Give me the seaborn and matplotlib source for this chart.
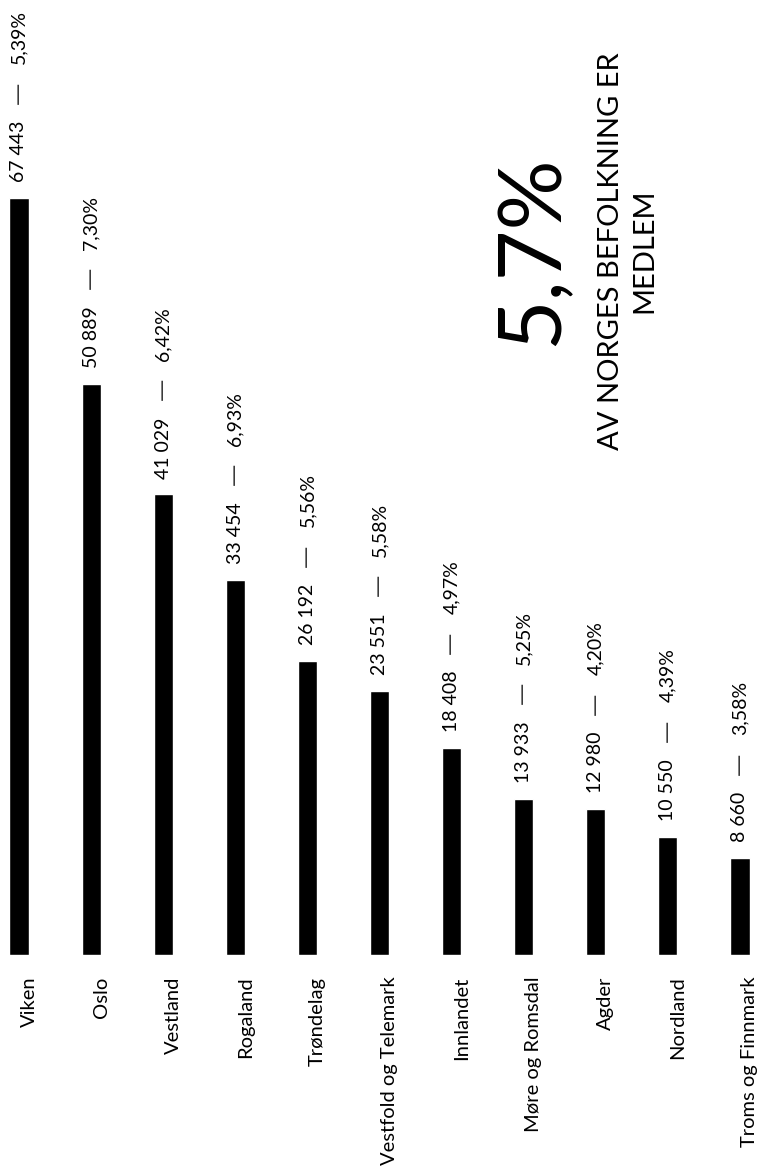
import matplotlib
matplotlib.use("Agg")
import matplotlib.pyplot as plt
from matplotlib.transforms import ScaledTranslation
import seaborn as sns
import pandas as pd

regions = ["Viken", "Oslo", "Vestland", "Rogaland", "Trøndelag",
           "Vestfold og Telemark", "Innlandet", "Møre og Romsdal",
           "Agder", "Nordland", "Troms og Finnmark"]
members = [67443, 50889, 41029, 33454, 26192, 23551, 18408, 13933,
           12980, 10550, 8660]
shares = ["5,39%", "7,30%", "6,42%", "6,93%", "5,56%", "5,58%", "4,97%",
          "5,25%", "4,20%", "4,39%", "3,58%"]
headline = "5,7%"
subline = "AV NORGES BEFOLKNING ER\nMEDLEM"

sns.set_theme(style="white")
plt.rcParams["font.family"] = ["Lato", "DejaVu Sans"]

W, H, DPI = 760, 1169, 100
fig = plt.figure(figsize=(W / DPI, H / DPI), dpi=DPI)
fig.patch.set_facecolor("white")

base_px = 955          # baseline position from top (px)
ax = fig.add_axes([0, (H - base_px) / H, 1, base_px / H])
ax.set_facecolor("white")

df = pd.DataFrame({"region": regions, "members": members})
sns.barplot(data=df, x="region", y="members", color="black",
            width=0.264, saturation=1, ax=ax)

step = 72.1
first = 19
ax.set_xlim(-first / step, (W - first) / step)
ax.set_ylim(0, members[0] * base_px / (base_px - 198))

for s in ax.spines.values():
    s.set_visible(False)
ax.set_yticks([])
ax.set_xlabel("")
ax.set_ylabel("")
ax.tick_params(axis="x", length=0, pad=15.5)
ax.set_xticks(range(len(regions)))
ax.set_xticklabels(regions, rotation=90, ha="center", va="top",
                   fontsize=14.5, color="black")
for lab in ax.get_xticklabels():
    lab.set_transform(lab.get_transform() +
                      ScaledTranslation(10 / DPI, 0, fig.dpi_scale_trans))

for i, (v, p) in enumerate(zip(members, shares)):
    num = f"{v:,}".replace(",", " ")
    t1 = ax.annotate(num, xy=(i, v), xytext=(0, 11.5),
                     textcoords="offset points", rotation=90,
                     ha="center", va="bottom", fontsize=14, color="black")
    t2 = ax.annotate("\u2014", xy=(0.5, 1), xycoords=t1, xytext=(-1, 12),
                     textcoords="offset points", rotation=90,
                     ha="center", va="bottom", fontsize=16,
                     family="DejaVu Sans", color="#3a3a3a")
    ax.annotate(p, xy=(0.5, 1), xycoords=t2, xytext=(1, 12.5),
                textcoords="offset points", rotation=90,
                ha="center", va="bottom", fontsize=14, color="black")

fig.text(533 / W, 1 - 250 / H, headline, rotation=90, ha="center",
         va="center", fontsize=63, color="black")
fig.text(628 / W, 1 - 251 / H, subline, rotation=90, ha="center",
         va="center", fontsize=21, color="black", linespacing=1.35,
         multialignment="center")

fig.savefig("out.png", dpi=DPI, facecolor="white")
